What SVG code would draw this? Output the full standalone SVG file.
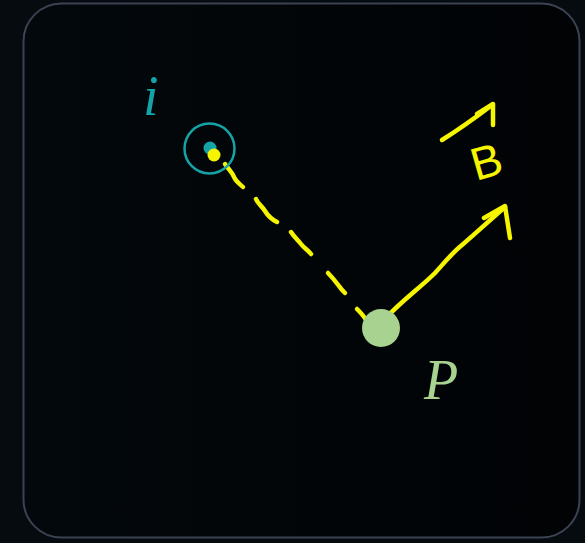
<svg xmlns="http://www.w3.org/2000/svg" width="585" height="543" viewBox="0 0 585 543">
<style>
.ink{fill:none;stroke:#f5f500;stroke-width:4.5;stroke-linecap:round;stroke-linejoin:round}
.lbl{font-family:"Liberation Serif","DejaVu Serif",serif;font-style:italic}
</style>
<defs>
<linearGradient id="bg" x1="0" y1="0" x2="1" y2="0">
<stop offset="0" stop-color="#03080c"/>
<stop offset="1" stop-color="#010305"/>
</linearGradient>
</defs>
<rect width="585" height="543" fill="#060b10"/>
<rect x="23.5" y="3.5" width="556" height="534" rx="38" fill="url(#bg)" stroke="#3b4252" stroke-width="2"/>
<g id="connectors">
<g id="dashed-line">
<path class="ink" d="M225,164 C229,170 232,172 234,177 C236,182 240,184 243,187"/>
<path class="ink" d="M256,199 C258,204 262,206 265,211 C268,216 273,220 277,222"/>
<path class="ink" d="M291,232 C295,238 298,240 301,244 C304,248 308,250 311,254"/>
<path class="ink" d="M328,273 C333,278 336,282 339,286 C341,289 343,291 345,293"/>
<path class="ink" d="M357,309 C360,312 364,316 366,320"/>
</g>
<g id="b-arrow">
<path class="ink" d="M384,320 C400,302 420,288 435,273 C445,262 452,253 462,245 C475,234 490,220 505,207"/>
<path class="ink" d="M484,218 L505,206 L510,238"/>
</g>
</g>
<g id="node-i">
<circle cx="209.5" cy="148.5" r="25" fill="none" stroke="#14a4a8" stroke-width="2.5"/>
<circle cx="210" cy="148" r="6.5" fill="#14a4a8"/>
<circle cx="214" cy="155" r="6.5" fill="#f5f500"/>
<text class="lbl" x="143" y="115" font-size="56" fill="#14a4a8">i</text>
</g>
<g id="node-P">
<circle cx="381" cy="328" r="19" fill="#a8d290"/>
<text class="lbl" x="424" y="399" font-size="56" fill="#a8d290">P</text>
</g>
<g id="label-B">
<path class="ink" d="M442,140 C458,130 475,118 492,105"/>
<path class="ink" d="M477,114 L493,104 L493,125"/>
<text x="0" y="0" transform="translate(476,181) rotate(-16)" font-family="'Liberation Sans','DejaVu Sans',sans-serif" font-size="46" fill="#f5f500">B</text>
</g>
</svg>
